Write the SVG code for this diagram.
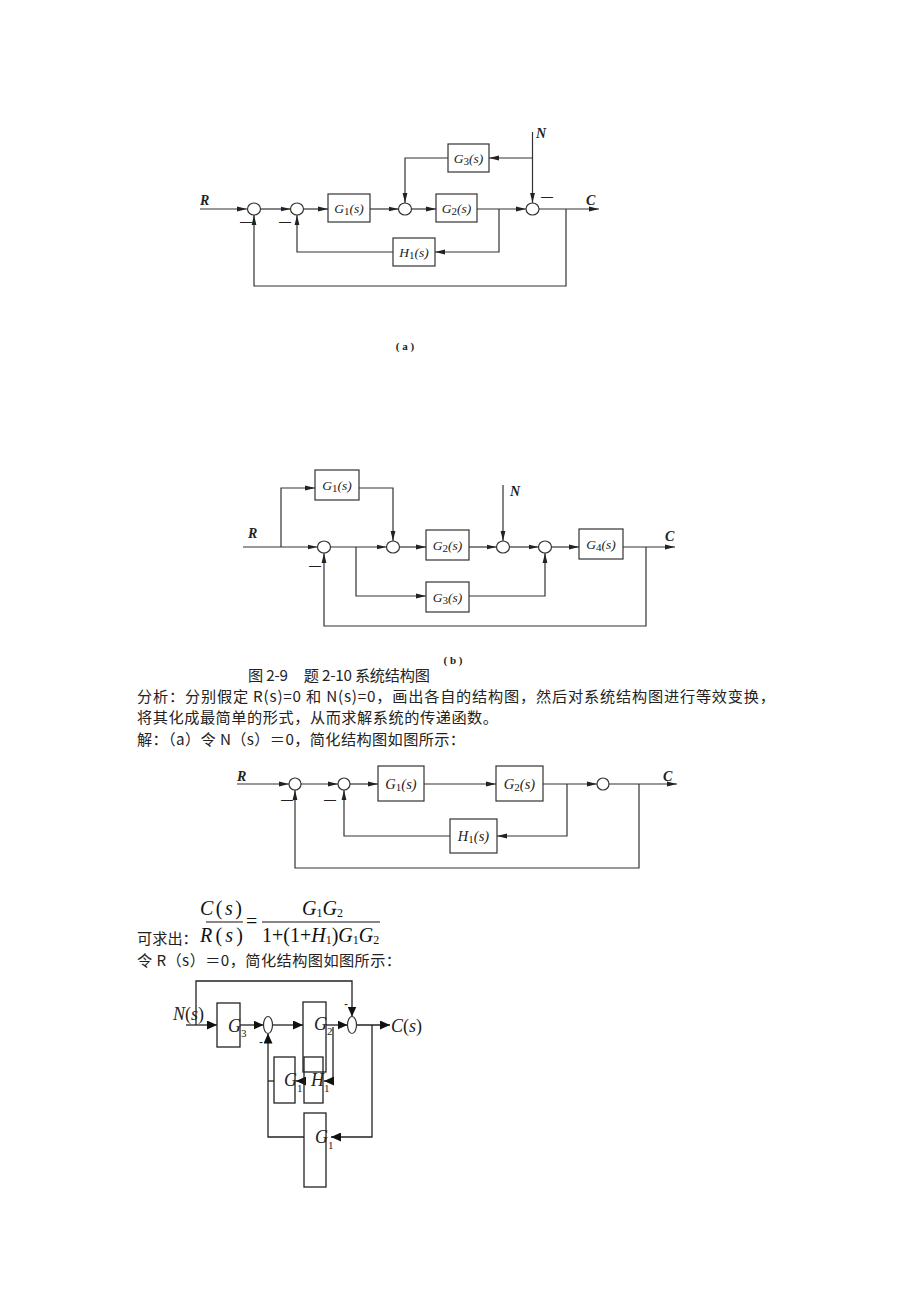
<svg xmlns="http://www.w3.org/2000/svg" width="920" height="1302" viewBox="0 0 920 1302">
<defs>
<style>
.ln{fill:none;stroke:#333;stroke-width:1.2}
.ln2{fill:none;stroke:#222;stroke-width:1.3}
.bx{fill:#fff;stroke:#333;stroke-width:1.2}
.bx2{fill:none;stroke:#222;stroke-width:1.3}
.sj{fill:#fff;stroke:#333;stroke-width:1.2}
.lb{font-family:"Liberation Serif",serif;font-style:italic;font-size:13.5px;fill:#222}
.lbc{font-family:"Liberation Serif",serif;font-style:italic;font-size:14.5px;fill:#222}
.io{font-family:"Liberation Serif",serif;font-style:italic;font-weight:bold;font-size:14px;fill:#222}
.mi{font-family:"Liberation Sans",sans-serif;font-size:12px;fill:#222}
.cap{font-family:"Liberation Serif",serif;font-weight:bold;font-size:11px;fill:#222}
.zh{font-family:"Noto Sans CJK SC",sans-serif;font-size:15.2px;fill:#222}
.mt{font-family:"Liberation Serif",serif;font-size:20px;fill:#111}
.big{font-family:"Liberation Serif",serif;font-style:italic;font-size:18px;fill:#222}
.sub{font-style:normal;font-size:11px}
</style>
<marker id="ar" markerWidth="10" markerHeight="6" refX="10" refY="3" orient="auto" markerUnits="userSpaceOnUse"><path d="M0,0.6 L10,3 L0,5.4 z" fill="#222"/></marker>
<marker id="ab" markerWidth="10" markerHeight="9" refX="10" refY="4.5" orient="auto" markerUnits="userSpaceOnUse"><path d="M0,0 L10,4.5 L0,9 z" fill="#111"/></marker>
</defs>
<rect width="920" height="1302" fill="#fff"/>

<!-- ===== Diagram (a) ===== -->
<g id="a-connectors">
<polyline class="ln" points="200,209 247,209" marker-end="url(#ar)"/>
<polyline class="ln" points="260.5,209 290.5,209" marker-end="url(#ar)"/>
<polyline class="ln" points="303.5,209 328,209" marker-end="url(#ar)"/>
<polyline class="ln" points="370,209 398.5,209" marker-end="url(#ar)"/>
<polyline class="ln" points="411.5,209 436,209" marker-end="url(#ar)"/>
<polyline class="ln" points="477,209 526,209" marker-end="url(#ar)"/>
<polyline class="ln" points="539,209 599,209" marker-end="url(#ar)"/>
<polyline class="ln" points="532.5,132 532.5,203" marker-end="url(#ar)"/>
<polyline class="ln" points="532.5,158 489,158" marker-end="url(#ar)"/>
<polyline class="ln" points="448,158 405,158 405,203" marker-end="url(#ar)"/>
<polyline class="ln" points="499,209 499,252 435,252" marker-end="url(#ar)"/>
<polyline class="ln" points="393,252 297,252 297,215" marker-end="url(#ar)"/>
<polyline class="ln" points="566,209 566,286 254,286 254,215" marker-end="url(#ar)"/>
</g>
<g id="a-sum1"><ellipse class="sj" cx="254" cy="209" rx="6.5" ry="6"/><text class="mi" x="240" y="226">—</text></g>
<g id="a-sum2"><ellipse class="sj" cx="297" cy="209" rx="6.5" ry="6"/><text class="mi" x="279" y="226">—</text></g>
<g id="a-sum3"><ellipse class="sj" cx="405" cy="209" rx="6.5" ry="6"/></g>
<g id="a-sum4"><ellipse class="sj" cx="532.5" cy="209" rx="6.5" ry="6"/><text class="mi" x="541" y="201">—</text></g>
<g id="a-G1"><rect class="bx" x="328" y="194" width="42" height="28"/><text class="lb" x="349" y="213" text-anchor="middle">G<tspan class="sub" font-size="8" dy="2">1</tspan><tspan dy="-2">(s)</tspan></text></g>
<g id="a-G2"><rect class="bx" x="436" y="194" width="41" height="28"/><text class="lb" x="456.5" y="213" text-anchor="middle">G<tspan class="sub" font-size="8" dy="2">2</tspan><tspan dy="-2">(s)</tspan></text></g>
<g id="a-G3"><rect class="bx" x="448" y="144" width="41" height="28"/><text class="lb" x="468.5" y="163" text-anchor="middle">G<tspan class="sub" font-size="8" dy="2">3</tspan><tspan dy="-2">(s)</tspan></text></g>
<g id="a-H1"><rect class="bx" x="393" y="238" width="42" height="28"/><text class="lb" x="414" y="257" text-anchor="middle">H<tspan class="sub" font-size="8" dy="2">1</tspan><tspan dy="-2">(s)</tspan></text></g>
<g id="a-labels">
<text class="io" x="200" y="205">R</text>
<text class="io" x="536" y="138" font-size="12">N</text>
<text class="io" x="586" y="205">C</text>
<text class="cap" x="405" y="350" text-anchor="middle">( a )</text>
</g>

<!-- ===== Diagram (b) ===== -->
<g id="b-connectors">
<polyline class="ln" points="243,547 317.5,547" marker-end="url(#ar)"/>
<polyline class="ln" points="281,547 281,488 315,488" marker-end="url(#ar)"/>
<polyline class="ln" points="359,488 393,488 393,541" marker-end="url(#ar)"/>
<polyline class="ln" points="330.5,547 386.5,547" marker-end="url(#ar)"/>
<polyline class="ln" points="356,547 356,596 426,596" marker-end="url(#ar)"/>
<polyline class="ln" points="399.5,547 426,547" marker-end="url(#ar)"/>
<polyline class="ln" points="469,547 496.5,547" marker-end="url(#ar)"/>
<polyline class="ln" points="503,485 503,541" marker-end="url(#ar)"/>
<polyline class="ln" points="509.5,547 538.5,547" marker-end="url(#ar)"/>
<polyline class="ln" points="469,596 545,596 545,553" marker-end="url(#ar)"/>
<polyline class="ln" points="551.5,547 579,547" marker-end="url(#ar)"/>
<polyline class="ln" points="623,547 675,547" marker-end="url(#ar)"/>
<polyline class="ln" points="646,547 646,626 324,626 324,553" marker-end="url(#ar)"/>
</g>
<g id="b-sum1"><ellipse class="sj" cx="324" cy="547" rx="6.5" ry="6"/><text class="mi" x="309" y="570">—</text></g>
<g id="b-sum2"><ellipse class="sj" cx="393" cy="547" rx="6.5" ry="6"/></g>
<g id="b-sum3"><ellipse class="sj" cx="503" cy="547" rx="6.5" ry="6"/></g>
<g id="b-sum4"><ellipse class="sj" cx="545" cy="547" rx="6.5" ry="6"/></g>
<g id="b-G1"><rect class="bx" x="315" y="470" width="44" height="30"/><text class="lb" x="337" y="490" text-anchor="middle">G<tspan class="sub" font-size="8" dy="2">1</tspan><tspan dy="-2">(s)</tspan></text></g>
<g id="b-G2"><rect class="bx" x="426" y="530" width="43" height="30"/><text class="lb" x="447.5" y="550" text-anchor="middle">G<tspan class="sub" font-size="8" dy="2">2</tspan><tspan dy="-2">(s)</tspan></text></g>
<g id="b-G3"><rect class="bx" x="426" y="582" width="43" height="30"/><text class="lb" x="447.5" y="602" text-anchor="middle">G<tspan class="sub" font-size="8" dy="2">3</tspan><tspan dy="-2">(s)</tspan></text></g>
<g id="b-G4"><rect class="bx" x="579" y="529" width="44" height="30"/><text class="lb" x="601" y="549" text-anchor="middle">G<tspan class="sub" font-size="8" dy="2">4</tspan><tspan dy="-2">(s)</tspan></text></g>
<g id="b-labels">
<text class="io" x="248" y="538">R</text>
<text class="io" x="510" y="496" font-size="12">N</text>
<text class="io" x="665" y="541">C</text>
<text class="cap" x="453" y="664" text-anchor="middle">( b )</text>
</g>

<!-- ===== Text ===== -->
<g id="text">
<text class="zh" x="248" y="681" font-size="14" textLength="182" xml:space="preserve">图 2-9     题 2-10 系统结构图</text>
<text class="zh" x="137" y="702" textLength="638">分析：分别假定 R(s)=0 和 N(s)=0，画出各自的结构图，然后对系统结构图进行等效变换，</text>
<text class="zh" x="137" y="723" textLength="361">将其化成最简单的形式，从而求解系统的传递函数。</text>
<text class="zh" x="137" y="745" textLength="328">解：（a）令 N（s）＝0，简化结构图如图所示：</text>
</g>

<!-- ===== Diagram (c) ===== -->
<g id="c-connectors">
<polyline class="ln" points="237,784 289,784" marker-end="url(#ar)"/>
<polyline class="ln" points="301,784 338,784" marker-end="url(#ar)"/>
<polyline class="ln" points="350,784 378,784" marker-end="url(#ar)"/>
<polyline class="ln" points="424,784 496,784" marker-end="url(#ar)"/>
<polyline class="ln" points="543,784 597,784" marker-end="url(#ar)"/>
<polyline class="ln" points="567,784 567,836 497,836" marker-end="url(#ar)"/>
<polyline class="ln" points="450,836 344,836 344,790" marker-end="url(#ar)"/>
<polyline class="ln" points="609,784 677,784" marker-end="url(#ar)"/>
<polyline class="ln" points="639,784 639,868 295,868 295,790" marker-end="url(#ar)"/>
</g>
<g id="c-sum1"><ellipse class="sj" cx="295" cy="784" rx="6" ry="6"/><text class="mi" x="281" y="804">—</text></g>
<g id="c-sum2"><ellipse class="sj" cx="344" cy="784" rx="6" ry="6"/><text class="mi" x="324" y="804">—</text></g>
<g id="c-sum3"><ellipse class="sj" cx="603" cy="784" rx="6" ry="6"/></g>
<g id="c-G1"><rect class="bx" x="378" y="766" width="46" height="35"/><text class="lbc" x="401" y="789" text-anchor="middle">G<tspan class="sub" font-size="9" dy="2">1</tspan><tspan dy="-2">(s)</tspan></text></g>
<g id="c-G2"><rect class="bx" x="496" y="766" width="47" height="35"/><text class="lbc" x="519.5" y="789" text-anchor="middle">G<tspan class="sub" font-size="9" dy="2">2</tspan><tspan dy="-2">(s)</tspan></text></g>
<g id="c-H1"><rect class="bx" x="450" y="819" width="47" height="34"/><text class="lbc" x="473.5" y="841" text-anchor="middle">H<tspan class="sub" font-size="9" dy="2">1</tspan><tspan dy="-2">(s)</tspan></text></g>
<g id="c-labels">
<text class="io" x="237" y="781">R</text>
<text class="io" x="663" y="781">C</text>
</g>

<!-- ===== Formula ===== -->
<g id="formula">
<text class="mt" x="200" y="915" textLength="42"><tspan font-style="italic">C</tspan>(<tspan font-style="italic">s</tspan>)</text>
<text class="mt" x="200" y="942" textLength="43"><tspan font-style="italic">R</tspan>(<tspan font-style="italic">s</tspan>)</text>
<line x1="206" y1="922" x2="243" y2="922" stroke="#111" stroke-width="1.2"/>
<text class="mt" x="246" y="928">=</text>
<text class="mt" x="302" y="915"><tspan font-style="italic">G</tspan><tspan font-size="12" dy="2">1</tspan><tspan font-style="italic" dy="-2">G</tspan><tspan font-size="12" dy="2">2</tspan></text>
<line x1="262" y1="922" x2="380" y2="922" stroke="#111" stroke-width="1.2"/>
<text class="mt" x="262" y="942">1+(1+<tspan font-style="italic">H</tspan><tspan font-size="12" dy="2">1</tspan><tspan dy="-2">)</tspan><tspan font-style="italic">G</tspan><tspan font-size="12" dy="2">1</tspan><tspan font-style="italic" dy="-2">G</tspan><tspan font-size="12" dy="2">2</tspan></text>
<text class="zh" x="137" y="944" font-size="14.8">可求出：</text>
<text class="zh" x="137" y="966" textLength="264">令 R（s）＝0，简化结构图如图所示：</text>
</g>

<!-- ===== Diagram (d) ===== -->
<g id="d-connectors">
<polyline class="ln2" points="186,1025 217,1025" marker-end="url(#ab)"/>
<polyline class="ln2" points="196,1025 196,981 352,981 352,1016.5" marker-end="url(#ab)"/>
<polyline class="ln2" points="240,1025 263.5,1025" marker-end="url(#ab)"/>
<polyline class="ln2" points="272.5,1025 303,1025" marker-end="url(#ab)"/>
<polyline class="ln2" points="326,1025 347.5,1025" marker-end="url(#ab)"/>
<polyline class="ln2" points="356.5,1025 390,1025" marker-end="url(#ab)"/>
<polyline class="ln2" points="372,1025 372,1137 331,1137" marker-end="url(#ab)"/>
<polyline class="ln2" points="304,1137 268,1137 268,1033.5" marker-end="url(#ab)" stroke-width="2"/>
<polyline class="ln2" points="274,1081 268,1081"/>
<polyline class="ln2" points="333,1027 333,1081 324,1081" marker-end="url(#ab)"/>
<polyline class="ln2" points="304,1081 296,1081" marker-end="url(#ab)"/>
</g>
<g id="d-sum1"><ellipse class="sj" cx="268" cy="1025" rx="4.5" ry="8.5"/><text class="mi" x="261" y="1046" text-anchor="middle" font-size="14">-</text></g>
<g id="d-sum2"><ellipse class="sj" cx="352" cy="1025" rx="4.5" ry="8.5"/><text class="mi" x="346" y="1008" text-anchor="middle" font-size="14">-</text></g>
<g id="d-G3"><rect class="bx2" x="217" y="1003" width="23" height="44"/><text class="big" x="228" y="1032">G<tspan class="sub" font-size="11" dy="5">3</tspan></text></g>
<g id="d-G2"><rect class="bx2" x="303" y="1002" width="23" height="70"/><text class="big" x="314" y="1030">G<tspan class="sub" font-size="11" dy="5">2</tspan></text></g>
<g id="d-H1"><rect class="bx2" x="304" y="1057" width="19" height="46"/><text class="big" x="311" y="1086">H<tspan class="sub" font-size="11" dy="6">1</tspan></text></g>
<g id="d-G1a"><rect class="bx2" x="274" y="1057" width="21" height="46"/><text class="big" x="284" y="1086">G<tspan class="sub" font-size="11" dy="6">1</tspan></text></g>
<g id="d-G1b"><rect class="bx2" x="304" y="1113" width="22" height="74"/><text class="big" x="315" y="1143">G<tspan class="sub" font-size="11" dy="6">1</tspan></text></g>
<g id="d-labels">
<text class="big" x="173" y="1020" font-size="19">N<tspan font-style="normal">(</tspan>s<tspan font-style="normal">)</tspan></text>
<text class="big" x="391" y="1032" font-size="19">C<tspan font-style="normal">(</tspan>s<tspan font-style="normal">)</tspan></text>
</g>
</svg>
